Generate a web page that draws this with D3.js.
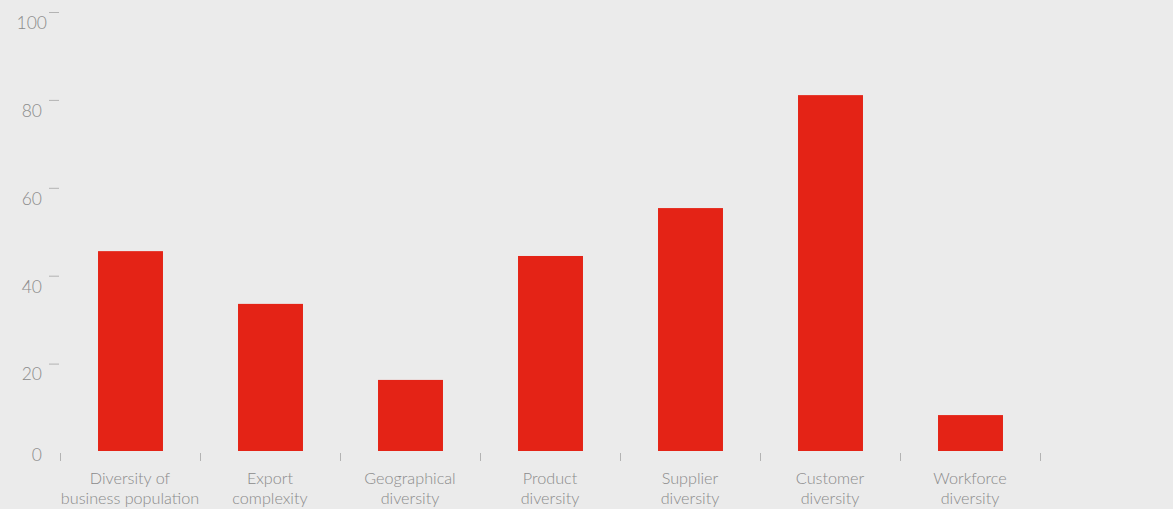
<!DOCTYPE html>
<html>
<head>
<meta charset="utf-8">
<script src="https://cdnjs.cloudflare.com/ajax/libs/d3/7.8.5/d3.min.js"></script>
<style>
  html, body { margin: 0; padding: 0; background: #ebebeb; }
  #chart text { font-family: Lato, "Open Sans", sans-serif; font-weight: 300; fill: #8a8a8a; }
</style>
</head>
<body>
<div id="chart"></div>
<script>
document.addEventListener("DOMContentLoaded", function () {

  // Data
  const categories = [
    ["Diversity of", "business population"],
    ["Export", "complexity"],
    ["Geographical", "diversity"],
    ["Product", "diversity"],
    ["Supplier", "diversity"],
    ["Customer", "diversity"],
    ["Workforce", "diversity"]
  ];
  const values = [45.7, 33.7, 16.4, 44.6, 55.5, 81.2, 8.4];
  const yTicks = [0, 20, 40, 60, 80, 100];

  const width = 1173, height = 509;

  const svg = d3.select("#chart")
    .append("svg")
    .attr("width", width)
    .attr("height", height);

  // Scales
  const xScale = d3.scaleBand()
    .domain(d3.range(categories.length))
    .range([60.5, 1040.5])
    .paddingInner(0.536)
    .paddingOuter(0.268);

  const band = d3.scaleBand().domain(d3.range(categories.length)).range([60, 1040]);

  const yScale = d3.scaleLinear().domain([0, 100]).range([452, 12.5]);

  // Y axis: short dashes to the right of the labels
  const yAxis = svg.append("g");
  yAxis.selectAll("line")
    .data(yTicks.filter(d => d > 0))
    .enter()
    .append("line")
    .attr("x1", 49).attr("x2", 59)
    .attr("y1", d => yScale(d)).attr("y2", d => yScale(d))
    .attr("stroke", "#b3b3b3")
    .attr("stroke-width", 1);

  yAxis.selectAll("text")
    .data(yTicks)
    .enter()
    .append("text")
    .attr("x", d => d === 100 ? 47 : 42)
    .attr("y", d => yScale(d) + (d === 0 ? 5 : 12))
    .attr("text-anchor", "end")
    .attr("dominant-baseline", "middle")
    .attr("font-size", 17.5)
    .text(d => d);

  // X axis: ticks at band boundaries
  const boundaries = d3.range(categories.length + 1).map(i => i === categories.length ? band.range()[1] : band(i));
  svg.append("g").selectAll("line")
    .data(boundaries)
    .enter()
    .append("line")
    .attr("x1", d => d + 0.5).attr("x2", d => d + 0.5)
    .attr("y1", 453).attr("y2", 461)
    .attr("stroke", "#b3b3b3")
    .attr("stroke-width", 1);

  // Bars
  svg.append("g").selectAll("rect")
    .data(values)
    .enter()
    .append("rect")
    .attr("x", (d, i) => xScale(i))
    .attr("width", xScale.bandwidth())
    .attr("y", d => yScale(d))
    .attr("height", d => yScale(0) - yScale(d) - 1)
    .attr("fill", "#e42316");

  // Category labels
  const labels = svg.append("g").selectAll("text")
    .data(categories)
    .enter()
    .append("text")
    .attr("x", (d, i) => band(i) + band.bandwidth() / 2)
    .attr("y", 484)
    .attr("text-anchor", "middle")
    .attr("font-size", 16.2);

  labels.selectAll("tspan")
    .data(d => d)
    .enter()
    .append("tspan")
    .attr("x", function () { return d3.select(this.parentNode).attr("x"); })
    .attr("dy", (d, i) => i === 0 ? 0 : 19.5)
    .text(d => d);
});
</script>
</body>
</html>
